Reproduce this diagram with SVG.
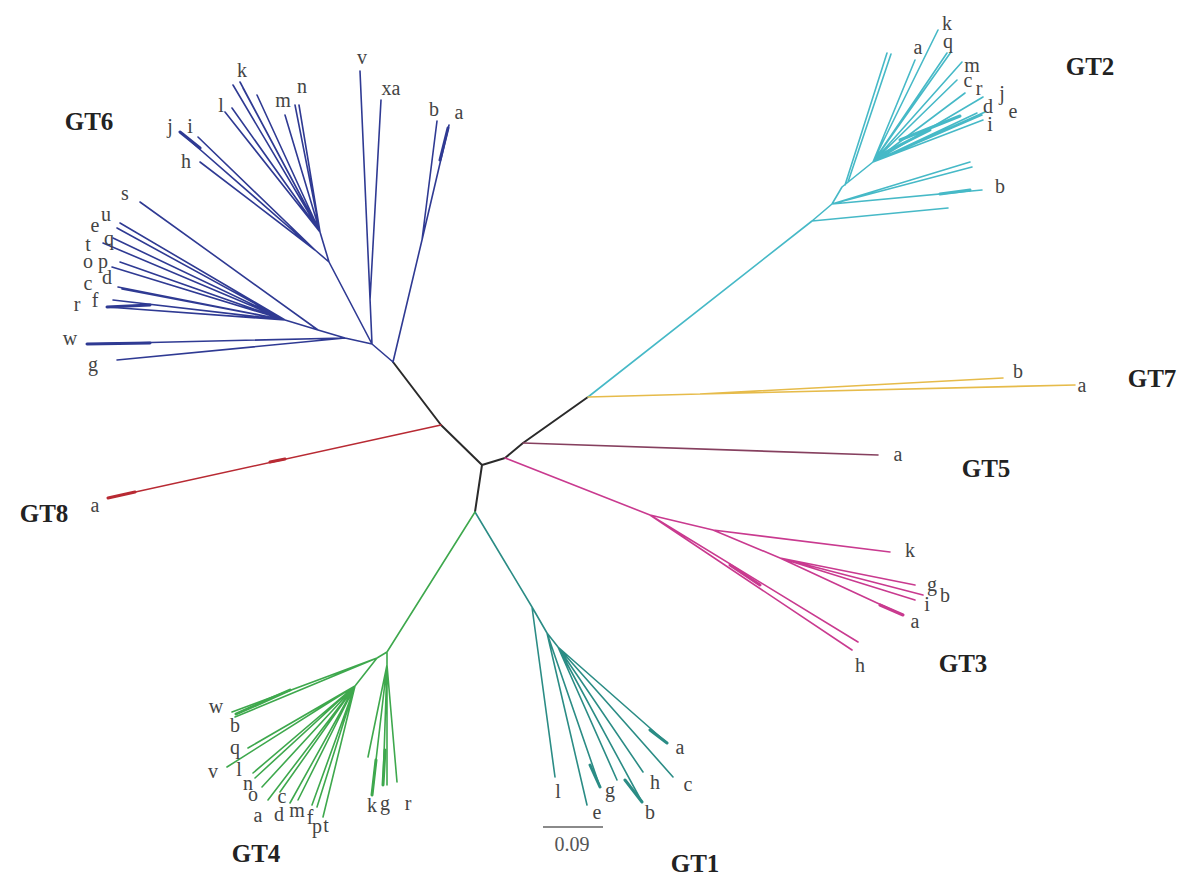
<svg xmlns="http://www.w3.org/2000/svg" width="1195" height="884" viewBox="0 0 1195 884">
<style>
.br{fill:none;stroke-width:1.6;stroke-linecap:round;stroke-linejoin:round}
.thk{fill:none;stroke-width:3;stroke-linecap:round}
.bb{stroke:#2a2a2a;stroke-width:2}
.g6{stroke:#2f3a93}
.g2{stroke:#46b9c7}
.g7{stroke:#e6bb4a}
.g5{stroke:#86405f}
.g3{stroke:#c93a8f}
.g8{stroke:#b82a33}
.g1{stroke:#2b8c85}
.g4{stroke:#3ea84d}
.lf{font-family:"Liberation Serif",serif;font-size:20px;fill:#444;text-anchor:middle}
.gt{font-family:"Liberation Serif",serif;font-size:25px;font-weight:bold;fill:#222;text-anchor:middle}
</style>
<rect width="1195" height="884" fill="#fff"/>
<g id="connectors">
  <path class="br bb" d="M482 465 L441 425 L393 362 M482 465 L505 458 L523 443 L588 397 M482 465 L475 512"/>
</g>
<g id="GT6">
  <path class="br g6" d="M393 362 L372 344 M393 362 L422 240 L449 125 M422 240 L437 121 M372 344 L360 71 M370 300 L381 100 M372 344 L345 338 L87 344 M345 338 L117 360 M345 338 L318 330 L285 320 M318 330 L140 202 M285 320 L120 223 M285 320 L117 228 M285 320 L113 238 M285 320 L103 243 M285 320 L120 262 M285 320 L112 267 M285 320 L118 287 M285 320 L122 289 M285 320 L113 300 M285 320 L107 307 M372 344 L329 262 L315 250 L200 162 M315 250 L180 132 M315 250 L198 137 M329 262 L320 232 L225 112 M320 232 L232 108 M320 232 L233 85 M320 232 L240 82 M320 232 L243 88 M320 232 L257 95 M320 232 L285 115 M320 232 L295 105 M320 232 L299 105"/>
  <path class="thk g6" d="M87 344 L150 343 M448 128 L440 160 M107 307 L150 305 M180 132 L200 148"/>
  <text class="gt" x="89" y="130">GT6</text>
  <text class="lf" x="242" y="77">k</text>
  <text class="lf" x="221" y="112">l</text>
  <text class="lf" x="283" y="107">m</text>
  <text class="lf" x="302" y="93">n</text>
  <text class="lf" x="362" y="64">v</text>
  <text class="lf" x="391" y="95">xa</text>
  <text class="lf" x="434" y="116">b</text>
  <text class="lf" x="459" y="119">a</text>
  <text class="lf" x="170" y="133">j</text>
  <text class="lf" x="190" y="133">i</text>
  <text class="lf" x="186" y="168">h</text>
  <text class="lf" x="125" y="200">s</text>
  <text class="lf" x="95" y="232">e</text>
  <text class="lf" x="106" y="221">u</text>
  <text class="lf" x="88" y="251">t</text>
  <text class="lf" x="109" y="245">q</text>
  <text class="lf" x="88" y="268">o</text>
  <text class="lf" x="103" y="268">p</text>
  <text class="lf" x="88" y="290">c</text>
  <text class="lf" x="107" y="284">d</text>
  <text class="lf" x="77" y="311">r</text>
  <text class="lf" x="95" y="307">f</text>
  <text class="lf" x="70" y="345">w</text>
  <text class="lf" x="93" y="371">g</text>
</g>
<g id="GT2">
  <path class="br g2" d="M588 397 L812 221 L948 208 M812 221 L832 204 L970 162 M832 204 L972 167 M832 204 L982 190 M832 204 L962 192 M832 204 L842 187 L873 162 M845 185 L887 53 M848 182 L891 54 M873 162 L915 60 M873 162 L938 30 M873 162 L947 53 M873 162 L951 52 M873 162 L962 62 M873 162 L957 80 M873 162 L965 93 M873 162 L983 97 M873 162 L977 113 M873 162 L982 115 M873 162 L983 120 M873 162 L985 112"/>
  <path class="thk g2" d="M940 194 L970 190 M900 140 L960 116 M880 155 L930 130"/>
  <text class="gt" x="1090" y="75">GT2</text>
  <text class="lf" x="947" y="30">k</text>
  <text class="lf" x="918" y="54">a</text>
  <text class="lf" x="948" y="48">q</text>
  <text class="lf" x="972" y="72">m</text>
  <text class="lf" x="968" y="87">c</text>
  <text class="lf" x="979" y="95">r</text>
  <text class="lf" x="1002" y="100">j</text>
  <text class="lf" x="988" y="113">d</text>
  <text class="lf" x="1013" y="118">e</text>
  <text class="lf" x="990" y="131">i</text>
  <text class="lf" x="1000" y="193">b</text>
</g>
<g id="GT7">
  <path class="br g7" d="M588 397 L700 394 L1003 378 M700 394 L1075 385"/>
  <text class="gt" x="1152" y="387">GT7</text>
  <text class="lf" x="1018" y="378">b</text>
  <text class="lf" x="1082" y="392">a</text>
</g>
<g id="GT5">
  <path class="br g5" d="M523 443 L878 455"/>
  <text class="gt" x="986" y="477">GT5</text>
  <text class="lf" x="898" y="461">a</text>
</g>
<g id="GT3">
  <path class="br g3" d="M505 458 L650 515 L858 642 M650 515 L852 650 M650 515 L713 530 L890 552 M713 530 L780 558 L915 585 M780 558 L923 595 M780 558 L915 600 M780 558 L903 615"/>
  <path class="thk g3" d="M880 605 L903 615 M730 565 L760 585"/>
  <text class="gt" x="963" y="672">GT3</text>
  <text class="lf" x="910" y="557">k</text>
  <text class="lf" x="932" y="591">g</text>
  <text class="lf" x="945" y="602">b</text>
  <text class="lf" x="927" y="611">i</text>
  <text class="lf" x="915" y="628">a</text>
  <text class="lf" x="860" y="672">h</text>
</g>
<g id="GT8">
  <path class="br g8" d="M441 425 L108 498"/>
  <path class="thk g8" d="M108 498 L135 492 M270 462 L285 459"/>
  <text class="gt" x="44" y="522">GT8</text>
  <text class="lf" x="95" y="512">a</text>
</g>
<g id="GT1">
  <path class="br g1" d="M475 512 L532 607 L555 777 M532 607 L547 633 L587 805 M547 633 L600 787 M547 633 L558 647 L667 743 M558 647 L673 777 M558 647 L643 772 M558 647 L642 802 M558 647 L617 780"/>
  <path class="thk g1" d="M650 730 L667 743 M625 780 L642 802 M590 765 L600 787"/>
  <line x1="543" y1="827" x2="603" y2="827" stroke="#8a8a8a" stroke-width="2"/>
  <text x="572" y="851" font-family="Liberation Serif, serif" font-size="20" fill="#555" text-anchor="middle">0.09</text>
  <text class="gt" x="695" y="872">GT1</text>
  <text class="lf" x="558" y="798">l</text>
  <text class="lf" x="610" y="797">g</text>
  <text class="lf" x="597" y="819">e</text>
  <text class="lf" x="650" y="819">b</text>
  <text class="lf" x="655" y="789">h</text>
  <text class="lf" x="688" y="791">c</text>
  <text class="lf" x="680" y="754">a</text>
</g>
<g id="GT4">
  <path class="br g4" d="M475 512 L387 652 L377 658 L232 712 M377 658 L235 717 M377 658 L355 686 M355 686 L248 748 M355 686 L227 767 M355 686 L253 773 M355 686 L255 778 M355 686 L262 787 M355 686 L268 800 M355 686 L280 792 M355 686 L290 803 M355 686 L298 800 M355 686 L312 805 M355 686 L317 807 M355 686 L323 817 M387 652 L387 665 L372 795 M387 665 L383 785 M387 665 L387 785 M387 665 L397 782 M387 665 L368 757"/>
  <path class="thk g4" d="M236 714 L290 690 M372 795 L376 760 M383 785 L385 750"/>
  <text class="gt" x="256" y="862">GT4</text>
  <text class="lf" x="216" y="713">w</text>
  <text class="lf" x="235" y="732">b</text>
  <text class="lf" x="235" y="754">q</text>
  <text class="lf" x="213" y="778">v</text>
  <text class="lf" x="239" y="776">l</text>
  <text class="lf" x="248" y="790">n</text>
  <text class="lf" x="253" y="801">o</text>
  <text class="lf" x="258" y="822">a</text>
  <text class="lf" x="282" y="803">c</text>
  <text class="lf" x="279" y="821">d</text>
  <text class="lf" x="297" y="817">m</text>
  <text class="lf" x="310" y="824">f</text>
  <text class="lf" x="317" y="833">p</text>
  <text class="lf" x="326" y="832">t</text>
  <text class="lf" x="372" y="812">k</text>
  <text class="lf" x="385" y="810">g</text>
  <text class="lf" x="408" y="810">r</text>
</g>
</svg>
